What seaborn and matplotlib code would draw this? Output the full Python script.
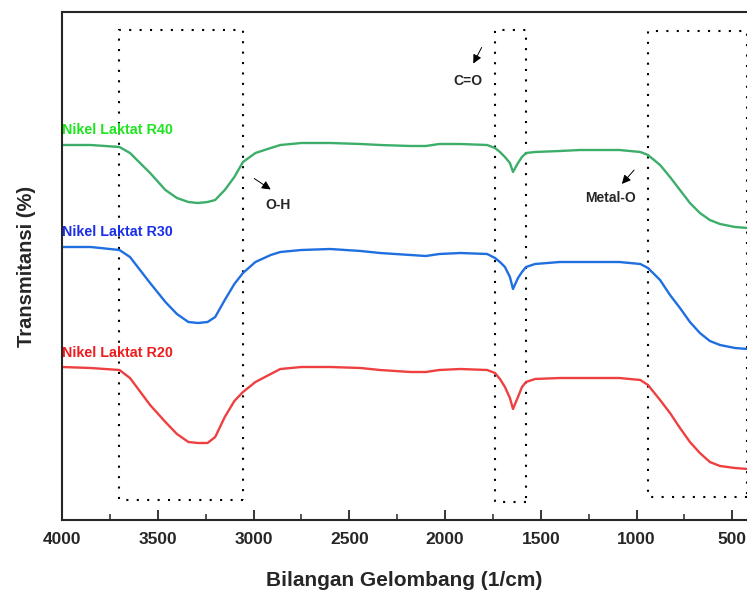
import numpy as np
import pandas as pd
import matplotlib
matplotlib.use("Agg")
import matplotlib.pyplot as plt
import matplotlib.ticker as mticker
from matplotlib.patches import Rectangle
import seaborn as sns

# wavenumber grid (1/cm)
wn = [4000, 3850, 3700, 3645, 3540, 3460, 3400, 3340, 3290, 3240, 3200, 3150,
      3100, 3055, 2990, 2910, 2860, 2750, 2600, 2440, 2340, 2180, 2100, 2030,
      1920, 1780, 1739, 1713, 1687, 1661, 1645, 1619, 1598, 1577, 1530, 1400,
      1295, 1090, 980, 940, 877, 825, 773, 721, 669, 617, 564, 486, 420]

# transmittance (arbitrary, stacked offsets)
r40 = [375, 375, 373, 367, 347, 330, 322, 318, 317, 318, 320, 330,
       343, 358, 367, 372, 375, 377, 377, 376, 375, 374, 374, 376,
       376, 375, 372, 368, 363, 357, 348, 357, 363, 367, 368, 369,
       370, 370, 368, 365, 355, 343, 330, 317, 307, 300, 296, 293, 292]
r30 = [273, 273, 270, 263, 237, 218, 206, 198, 197, 198, 203, 220,
       236, 247, 258, 265, 268, 270, 271, 269, 267, 265, 264, 266,
       267, 266, 262, 258, 253, 243, 231, 242, 248, 253, 256, 258,
       258, 258, 256, 252, 240, 225, 212, 198, 187, 179, 175, 172, 171]
r20 = [153, 152, 150, 142, 115, 98, 86, 78, 77, 77, 83, 103,
       119, 128, 138, 146, 151, 153, 153, 152, 150, 148, 148, 150,
       151, 150, 147, 141, 133, 122, 111, 123, 133, 138, 141, 142,
       142, 142, 140, 135, 120, 107, 92, 78, 67, 58, 54, 52, 51]

series_names = ["Nikel Laktat R40", "Nikel Laktat R30", "Nikel Laktat R20"]
line_colors = ["#3cae6a", "#1f6fe0", "#ee4040"]
label_colors = ["#1ee41e", "#1a2ee8", "#ee1c1c"]
label_y = [390, 288, 167]

# dotted boxes: (wn_left, wn_right, bottom, top)
boxes = [(3700, 3055, 20, 490), (1739, 1577, 18, 490), (940, 425, 23, 489)]

# annotations: text, text pos, arrow tail, arrow head
notes = [("O-H", (2872, 315), (3008, 343), (2898, 329)),
         ("C=O", (1880, 439), (1802, 475), (1859, 454)),
         ("Metal-O", (1138, 322), (1003, 352), (1086, 334))]

sns.set_style("ticks")
plt.rcParams['font.family'] = ['Liberation Sans', 'DejaVu Sans']

fig = plt.figure(figsize=(7.47, 5.90), dpi=100)
ax = fig.add_axes([62/747, 1 - 520/590, 1 - 62/747, 508/590])

for vals, col in zip([r40, r30, r20], line_colors):
    sns.lineplot(x=wn, y=vals, color=col, lw=1.7, ax=ax)

for name, col, y in zip(series_names, label_colors, label_y):
    ax.text(4000, y, name, color=col, fontsize=10.3, fontweight="bold",
            ha="left", va="center")

for x0, x1, y0, y1 in boxes:
    ax.add_patch(Rectangle((x1, y0), x0 - x1, y1 - y0, fill=False,
                           ec="black", lw=1.5, ls=(0, (1, 4))))

for txt, pos, tail, head in notes:
    ax.text(pos[0], pos[1], txt, fontsize=10, fontweight="bold",
            ha="center", va="center")
    ax.annotate("", xy=head, xytext=tail,
                arrowprops=dict(arrowstyle="-|>", color="black", lw=0.7,
                                mutation_scale=13))

ax.set_xlim(4000, 423)
ax.set_ylim(0, 508)
ax.xaxis.set_major_locator(mticker.MultipleLocator(500))
ax.xaxis.set_minor_locator(mticker.MultipleLocator(250))
ax.set_yticks([])
ax.tick_params(axis="x", which="major", direction="in", length=7, width=1.3,
               labelsize=12.5, pad=9)
ax.tick_params(axis="x", which="minor", direction="in", length=4, width=1.1)
for lab in ax.get_xticklabels():
    lab.set_fontweight("bold")
ax.spines["right"].set_visible(False)
for s in ["left", "top", "bottom"]:
    ax.spines[s].set_linewidth(1.5)

ax.set_xlabel("Bilangan Gelombang (1/cm)", fontsize=15, fontweight="bold",
              labelpad=17)
ax.set_ylabel("Transmitansi (%)", fontsize=14.5, fontweight="bold",
              labelpad=19)

fig.savefig("out.png", dpi=100)
